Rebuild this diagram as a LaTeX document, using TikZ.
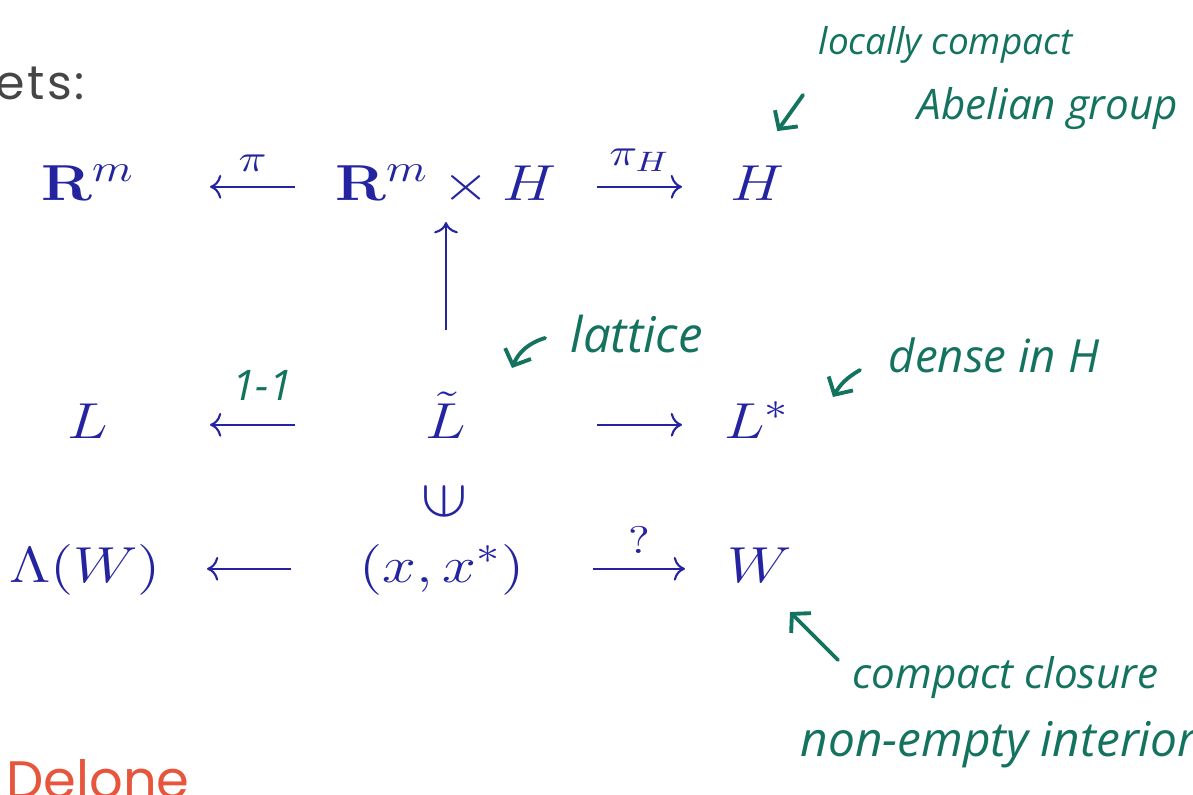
\documentclass[tikz,border=0pt]{standalone}
\usepackage[no-math]{fontspec}
\setmainfont{Poppins}
\newfontfamily\handfont{Open Sans}
\usepackage{graphicx}
\usetikzlibrary{positioning,arrows.meta}

\definecolor{mathblue}{RGB}{36,36,160}
\definecolor{inkgreen}{RGB}{20,115,95}
\definecolor{slidegray}{RGB}{70,70,70}
\definecolor{delonered}{RGB}{230,85,60}

% the slide's formulas are set a little wide
\newcommand{\widemath}[1]{\scalebox{1.2}[1.0]{$#1$}}

\begin{document}
\begin{tikzpicture}[
  font=\fontsize{15}{18}\selectfont,
  obj/.style={text=mathblue, inner sep=0pt, outer sep=0pt, text height=11.5pt, text depth=4pt, anchor=base},
  colA/.style={obj, minimum width=2.44cm},
  colB/.style={obj, minimum width=3.02cm},
  colC/.style={obj, minimum width=1.5cm},
  map/.style={draw=mathblue, line width=0.6pt, -{Computer Modern Rightarrow[scale=1.1]}},
  lbl/.style={above=4pt, inner sep=0pt, text=mathblue, font=\fontsize{11}{13}\selectfont},
  ink/.style={text=inkgreen, inner sep=0pt, anchor=base west, font=\handfont\itshape\fontsize{12}{14}\selectfont},
  note/.style={draw=inkgreen, line width=1.1pt, line cap=round, -{Straight Barb[length=1.3mm, width=2.8mm]}}
]
  \useasboundingbox (0,0) rectangle (11.93,-7.94);

  % slide text around the diagram
  \node[anchor=base east, text=slidegray, font=\fontsize{13.5}{16}\selectfont\addfontfeature{LetterSpace=5}] (head) at (0.97,-1.00) {ets:};
  \node[anchor=base west, text=delonered, font=\fontsize{15}{18}\selectfont] (sec) at (-0.06,-7.98) {Delone};

  % cut and project scheme
  \node[colA] (Rm)  at (0.88,-2.00) {\widemath{\mathbf{R}^m}};
  \node[colB] (RmH) at (4.46,-2.00) {\widemath{\mathbf{R}^m \times H}};
  \node[colC] (H)   at (7.57,-2.00) {\widemath{H}};

  \node[colA] (L)  at (0.88,-4.38) {\widemath{L}};
  \node[colB] (Lt) at (4.46,-4.38) {\widemath{\tilde{L}}};
  \node[colC] (Ls) at (7.57,-4.38) {\widemath{L^*}};

  \node[text=mathblue, inner sep=0pt] (in) at (4.44,-5.01) {\scalebox{1.35}[1.25]{\rotatebox{90}{$\in$}}};

  \node[colA] (Lam) at (0.85,-5.82) {\widemath{\Lambda(W)}};
  \node[colB] (pt)  at (4.42,-5.82) {\widemath{(x,x^*)}};
  \node[colC] (W)   at (7.60,-5.82) {\widemath{W}};

  \draw[map] (RmH) -- node[lbl] {\widemath{\pi}} (Rm);
  \draw[map] (RmH) -- node[lbl] {\widemath{\pi_H}} (H);
  \draw[map, shorten <=0.68cm, shorten >=0.08cm] (Lt) -- (RmH);
  \draw[map] (Lt) -- node[ink, above=6.5pt, xshift=1mm] {1-1} (L);
  \draw[map] (Lt) -- (Ls);
  \draw[map] (pt) -- (Lam);
  \draw[map] (pt) -- node[lbl] {\widemath{?}} (W);

  % handwritten remarks
  \node[ink, font=\handfont\itshape\fontsize{10.5}{12}\selectfont] (lc) at (8.18,-0.55) {locally compact};
  \node[ink] (ag) at (9.17,-1.20) {Abelian group};
  \coordinate (hTail) at (8.03,-0.95);
  \draw[note, shorten >=0.35cm] (hTail) -- (H.north);

  \node[ink, font=\handfont\itshape\fontsize{14}{16}\selectfont] (lat) at (5.70,-3.52) {lattice};
  \coordinate (latTail) at ([shift={(-0.25,0.14)}]lat.base west);
  \coordinate (latTip) at ([shift={(0.66,0.70)}]Lt.base);
  \draw[note] (latTail) to[bend right=25] (latTip);

  \node[ink, font=\handfont\itshape\fontsize{13}{15}\selectfont] (dn) at (8.88,-3.72) {dense in H};
  \coordinate (dnTail) at ([shift={(-0.28,0.02)}]dn.base west);
  \coordinate (dnTip) at ([shift={(0.76,0.41)}]Ls.base);
  \draw[note] (dnTail) to[bend right=15] (dnTip);

  \node[ink] (cc) at (8.52,-6.88) {compact closure};
  \node[ink, font=\handfont\itshape\fontsize{13.6}{16}\selectfont] (ne) at (8.00,-7.56) {non-empty interior};
  \coordinate (wTail) at ([shift={(-0.14,0.28)}]cc.base west);
  \coordinate (wTip) at ([shift={(0.30,-0.30)}]W.base);
  \draw[note] (wTail) -- (wTip);
\end{tikzpicture}
\end{document}
